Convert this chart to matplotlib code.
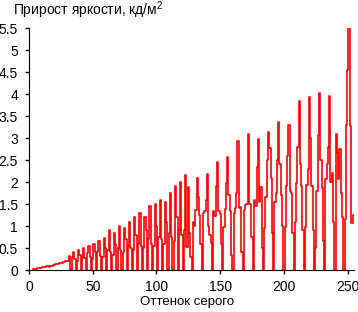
import numpy as np
import matplotlib.pyplot as plt

plt.rcParams['font.family'] = ['Liberation Sans', 'DejaVu Sans']
plt.rcParams['mathtext.fontset'] = 'custom'
plt.rcParams['mathtext.rm'] = 'Liberation Sans'

# gray level 0..255
shade = np.arange(256)

# brightness increment, cd/m2
nan = float('nan')
delta = [
    nan, nan, nan, nan,
    0.015, 0.02, 0.03, 0.04, 0.04, 0.05, 0.05, 0.06, 0.06, 0.07, 0.08, 0.09,
    0.07, 0.09, 0.10, 0.11, 0.11, 0.13, 0.14, 0.14, 0.15, 0.17, 0.17, 0.18,
    0.19, 0.20, 0.20, 0.21, 0.32,
    # 33..120
    0, 0.30, 0.42, 0.25,
    0, 0.20, 0.45, 0.35,
    0, 0.30, 0.50, 0.28,
    0, 0.38, 0.55, 0.30,
    0, 0.25, 0.58, 0.42,
    0, 0.40, 0.65, 0.32,
    0, 0.30, 0.72, 0.50,
    0, 0.45, 0.90, 0.40,
    0, 0.35, 0.85, 0.60,
    0, 0.50, 1.00, 0.45,
    0, 0.40, 0.95, 0.70,
    0, 0.55, 1.10, 0.50,
    0, 0.45, 1.20, 0.80,
    0, 0.60, 1.30, 0.55,
    0, 0.50, 1.20, 0.90,
    0, 0.70, 1.45, 0.60,
    0, 0.55, 1.50, 1.00,
    0, 0.75, 1.60, 0.70,
    0, 0.60, 1.55, 1.10,
    0, 0.85, 1.75, 0.75,
    0, 0.65, 1.90, 1.20,
    0, 0.90, 2.00, 0.80,
    # 121..127
    0, 0.90, 2.16, 0.53, 1.89, 0.83, 0.30,
    # 128..255
    0, 1.10, 1.00, 1.36, 2.10, 1.67, 1.25, 0.60,
    0, 1.30, 1.33, 1.60, 2.18, 1.00, 0.80, 0.62,
    0, 1.33, 1.22, 1.90, 2.46, 1.35, 1.28, 0.60,
    0, 0.98, 1.38, 1.97, 2.56, 1.70, 1.33, 0.35,
    0, 1.29, 1.40, 1.74, 2.93, 1.40, 1.43, 0.40,
    0, 1.36, 1.48, 1.50, 3.10, 1.50, 1.50, 0.75,
    0, 1.59, 1.45, 2.33, 2.98, 1.55, 1.89, 0.50,
    0, 0.95, 1.67, 2.50, 3.13, 2.77, 2.08, 0.83,
    0, 1.55, 1.75, 2.50, 3.37, 2.40, 1.70, 1.00,
    0, 0.98, 1.90, 2.60, 3.30, 1.80, 1.75, 0.85,
    0, 1.10, 1.97, 2.80, 3.85, 2.40, 1.90, 0.90,
    0, 0.98, 1.93, 2.30, 3.93, 3.00, 1.90, 0.92,
    0, 0.50, 1.80, 3.07, 4.02, 2.50, 1.86, 0.65,
    0, 2.06, 2.40, 2.80, 3.95, 2.00, 2.20, 1.10,
    0, 3.10, 2.65, 2.06, 2.75, 1.75, 1.20, 0,
    1.15, 3.30, 4.55, 5.52, 3.27, 1.06, 1.06, 1.25,
]

x_ticks = [0, 50, 100, 150, 200, 250]
y_ticks = [0, 0.5, 1, 1.5, 2, 2.5, 3, 3.5, 4, 4.5, 5, 5.5]
y_tick_labels = ['0', '0.5', '1', '1.5', '2', '2.5', '3', '3.5', '4', '4.5', '5', '5.5']

fig = plt.figure(figsize=(3.58, 3.12), dpi=100)
ax = fig.add_axes([0.081, 0.1346, 0.908, 0.7756])
ax.plot(shade, delta, color='#ff0000', lw=1.2, drawstyle='steps-mid')

ax.set_xlim(0, 255)
ax.set_ylim(0, 5.5)
ax.set_xticks(x_ticks)
ax.set_yticks(y_ticks)
ax.set_yticklabels(y_tick_labels)
ax.spines['top'].set_visible(False)
ax.spines['right'].set_visible(False)
ax.tick_params(axis='both', direction='out', length=3, width=1, labelsize=10)
ax.tick_params(axis='x', pad=4)
ax.tick_params(axis='y', pad=5)

fig.text(13 / 358, 1 - 10 / 312, 'Прирост яркости, кд/м$^2$', fontsize=10,
         ha='left', va='center')
fig.text(187 / 358, 1 - 302 / 312, 'Оттенок серого', fontsize=9.5,
         ha='center', va='center')

fig.savefig('out.png', dpi=100)
